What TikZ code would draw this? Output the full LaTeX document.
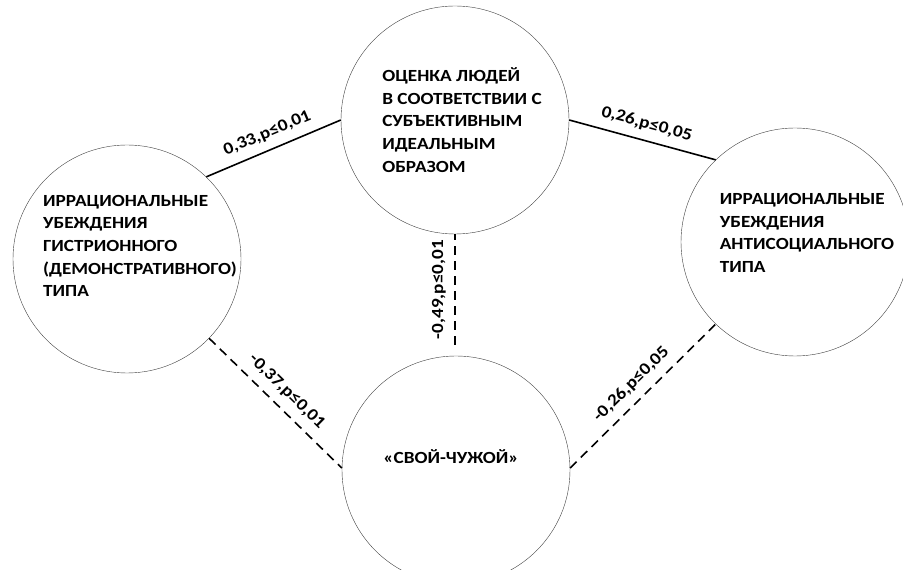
\documentclass[tikz,border=0pt]{standalone}
\usepackage{fontspec}
\setmainfont{Carlito}[FakeStretch=1.13]

\begin{document}
\begin{tikzpicture}[x=1pt, y=1pt,
    factor/.style={circle, draw=black!75, thin, minimum size=228pt, inner sep=0pt},
    tag/.style={align=left, inner sep=0pt, font=\fontsize{17}{22.7}\selectfont\bfseries},
    link/.style={line width=1.6pt},
    neg/.style={dash pattern=on 9pt off 6pt},
    corr/.style={midway, above, sloped, inner sep=8.5pt,
        font=\fontsize{17}{20}\selectfont\bfseries}]
        % Fix the page to the reference size
        \useasboundingbox (0,0) rectangle (903,570);

        % The four circles, text slightly off centre as in the source
        \node[factor, label={[tag, xshift=7pt]center:ОЦЕНКА ЛЮДЕЙ\\В СООТВЕТСТВИИ С\\СУБЪЕКТИВНЫМ\\ИДЕАЛЬНЫМ\\ОБРАЗОМ}] (ideal) at (455,450) {};
        \node[factor, label={[tag, xshift=13pt, yshift=13pt]center:ИРРАЦИОНАЛЬНЫЕ\\УБЕЖДЕНИЯ\\ГИСТРИОННОГО\\(ДЕМОНСТРАТИВНОГО)\\ТИПА}] (hist) at (127,311) {};
        \node[factor, label={[tag, xshift=12pt, yshift=9pt]center:ИРРАЦИОНАЛЬНЫЕ\\УБЕЖДЕНИЯ\\АНТИСОЦИАЛЬНОГО\\ТИПА}] (anti) at (795,328) {};
        \node[factor, label={[tag, xshift=-5pt, yshift=13pt]center:«СВОЙ-ЧУЖОЙ»}] (own) at (456,100) {};

        % Positive links (solid)
        \draw[link] (hist.46) -- (ideal.180) node[corr] {0,33,p≤0,01};
        \draw[link] (ideal.0) -- (anti.134) node[corr] {0,26,p≤0,05};

        % Negative links (dashed)
        \coordinate (gap) at (455,225);
        \draw[link, neg] (gap) -- (ideal.270) node[corr] {-0,49,p≤0,01};
        \draw[link, neg] (hist.-44) -- (own.179) node[corr] {-0,37,p≤0,01};
        \draw[link, neg] (own.1) -- (anti.226) node[corr] {-0,26,p≤0,05};
    \end{tikzpicture}
\end{document}
